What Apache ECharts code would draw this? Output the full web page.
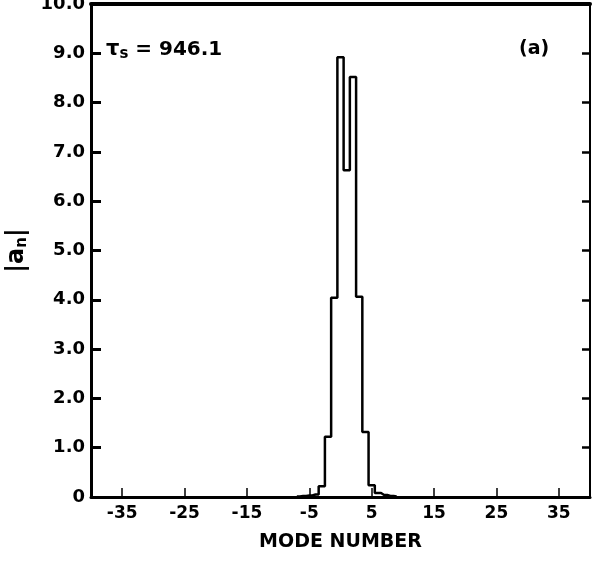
<!DOCTYPE html>
<html>
<head>
<meta charset="utf-8">
<script src="https://cdn.jsdelivr.net/npm/echarts@6/dist/echarts.min.js"></script>
<style>
  html, body { margin: 0; padding: 0; background: #fff; }
  #chart { width: 593px; height: 564px; }
</style>
</head>
<body>
<div id="chart"></div>
<script>
// mode numbers and the amplitude |a_n|
var modes = [-7, -6, -5, -4, -3, -2, -1, 0, 1, 2, 3, 4, 5, 6, 7, 8, 9]
var amplitudes = [0.01, 0.02, 0.03, 0.05, 0.22, 1.22, 4.04, 8.92, 6.63, 8.52, 4.06, 1.32, 0.24, 0.08, 0.04, 0.02, 0.01]
var xTicks = [-35, -25, -15, -5, 5, 15, 25, 35]

var font = 'DejaVu Sans'
var chart = echarts.init(document.getElementById('chart'))

chart.setOption({
  backgroundColor: '#fff',
  animation: false,
  grid: {
    left: 91,
    right: 3,
    top: 4,
    bottom: 67,
    outerBoundsMode: 'none'
  },
  xAxis: [{
    type: 'value',
    min: -40,
    max: 40,
    name: 'MODE NUMBER',
    nameLocation: 'middle',
    nameGap: 36,
    nameTextStyle: {
      fontFamily: font,
      fontWeight: 'bold',
      fontSize: 19,
      color: '#000',
      letterSpacing: 2
    },
    axisLine: { onZero: false, lineStyle: { color: '#000', width: 3 } },
    axisTick: {
      inside: true,
      length: 9,
      customValues: xTicks,
      lineStyle: { color: '#000', width: 1.5 }
    },
    axisLabel: {
      customValues: xTicks,
      margin: 8,
      fontFamily: font,
      fontWeight: 'bold',
      fontSize: 17,
      color: '#000'
    },
    splitLine: { show: false }
  }, {
    type: 'value',
    position: 'top',
    min: -40,
    max: 40,
    axisLine: { onZero: false, lineStyle: { color: '#000', width: 4 } },
    axisTick: { show: false },
    axisLabel: { show: false },
    splitLine: { show: false }
  }],
  yAxis: [{
    type: 'value',
    min: 0,
    max: 10,
    interval: 1,
    name: '|{i|a}{sub|n}|',
    nameLocation: 'middle',
    nameGap: 56,
    nameTextStyle: {
      fontFamily: font,
      fontWeight: 'bold',
      fontSize: 24,
      color: '#000',
      rich: {
        i: { fontFamily: font, fontWeight: 'bold', fontSize: 24, color: '#000' },
        sub: { fontFamily: font, fontWeight: 'bold', fontSize: 15, color: '#000', padding: [10, 0, 0, 0] }
      }
    },
    axisLine: { onZero: false, lineStyle: { color: '#000', width: 3 } },
    axisTick: {
      inside: true,
      length: 10,
      lineStyle: { color: '#000', width: 3 }
    },
    axisLabel: {
      margin: 6,
      fontFamily: font,
      fontWeight: 'bold',
      fontSize: 18,
      color: '#000',
      formatter: function (v) {
        return v === 0 ? '0' : v.toFixed(1)
      }
    },
    splitLine: { show: false }
  }, {
    type: 'value',
    position: 'right',
    min: 0,
    max: 10,
    interval: 1,
    axisLine: { onZero: false, lineStyle: { color: '#000', width: 2 } },
    axisTick: {
      inside: true,
      length: 8,
      lineStyle: { color: '#000', width: 2.5 }
    },
    axisLabel: { show: false },
    splitLine: { show: false }
  }],
  graphic: [{
    type: 'text',
    left: 106,
    top: 39,
    style: {
      text: '{t|τ}{s|s} = 946.1',
      fontFamily: font,
      fontWeight: 'bold',
      fontSize: 20,
      fill: '#000',
      rich: {
        t: { fontFamily: font, fontWeight: 'bold', fontSize: 21, fill: '#000' },
        s: { fontFamily: font, fontWeight: 'bold', fontSize: 15, fill: '#000', padding: [10, 0, 0, 0] }
      }
    }
  }, {
    type: 'text',
    left: 519,
    top: 40,
    style: {
      text: '(a)',
      fontFamily: font,
      fontWeight: 'bold',
      fontSize: 19,
      fill: '#000'
    }
  }],
  series: [{
    type: 'line',
    step: 'middle',
    xAxisIndex: 0,
    yAxisIndex: 0,
    showSymbol: false,
    lineStyle: { color: '#000', width: 2.5 },
    data: modes.map(function (m, i) { return [m, amplitudes[i]] })
  }]
})
</script>
</body>
</html>
